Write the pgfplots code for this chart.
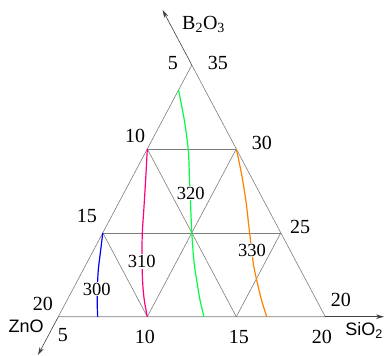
\documentclass[border=0pt]{standalone}
\usepackage{pgfplots}
\pgfplotsset{compat=1.18}
\usetikzlibrary{arrows.meta}
\usepackage{fontspec}
\setmainfont{Liberation Serif}
\newfontfamily\arial{Liberation Sans}

\definecolor{gridgray}{RGB}{125,125,125}
\definecolor{c300}{RGB}{0,0,255}
\definecolor{c310}{RGB}{255,0,128}
\definecolor{c320}{RGB}{0,255,64}
\definecolor{c330}{RGB}{255,128,0}

\tikzset{
    scalelbl/.style={font=\fontsize{20}{22}\selectfont, inner sep=0pt},
    isolbl/.style={font=\fontsize{18.5}{20}\selectfont, fill=white, inner sep=1pt},
}

\begin{document}
\begin{tikzpicture}
\begin{axis}[
    x=17.8pt, y=83.9pt,
    xmin=1.725, xmax=23.298, ymin=-0.468, ymax=3.775,
    hide axis, clip=false,
]
% triangle and grid
\addplot[gridgray, line width=0.6pt] coordinates {(5,0) (20,0) (12.5,3) (5,0)};
\addplot[gridgray, line width=0.6pt] coordinates {(7.5,1) (17.5,1)};
\addplot[gridgray, line width=0.6pt] coordinates {(10,2) (15,2)};
\addplot[gridgray, line width=0.6pt] coordinates {(10,0) (15,2)};
\addplot[gridgray, line width=0.6pt] coordinates {(15,0) (17.5,1)};
\addplot[gridgray, line width=0.6pt] coordinates {(15,0) (10,2)};
\addplot[gridgray, line width=0.6pt] coordinates {(10,0) (7.5,1)};

% axis arrows
\addplot[black!75, line width=0.6pt, -{Stealth[length=8pt,width=4.5pt]}] coordinates {(12.5,3) (10.86,3.656)};
\addplot[black!75, line width=0.6pt, -{Stealth[length=8pt,width=4.5pt]}] coordinates {(20,0) (23.3,0)};
\addplot[black!75, line width=0.6pt, -{Stealth[length=8pt,width=4.5pt]}] coordinates {(5,0) (3.86,-0.456)};

% isolines
\addplot[c300, line width=1.2pt, smooth] coordinates {
    (7.5,1) (7.382,0.795) (7.247,0.557) (7.191,0.318) (7.191,0.119) (7.213,0)};
\addplot[c310, line width=1.2pt, smooth] coordinates {
    (10,2) (9.927,1.709) (9.815,1.311) (9.719,0.994) (9.702,0.676)
    (9.742,0.398) (9.831,0.199) (10,0)};
\addplot[c320, line width=1.2pt, smooth] coordinates {
    (11.753,2.702) (12.079,2.344) (12.303,1.987) (12.371,1.629) (12.444,1.272)
    (12.5,1) (12.624,0.652) (12.775,0.437) (12.961,0.199) (13.185,0)};
\addplot[c330, line width=1.2pt, smooth] coordinates {
    (15,2) (15.303,1.692) (15.545,1.371) (15.730,1.033) (15.955,0.636)
    (16.146,0.437) (16.416,0.199) (16.708,0)};

% isoline labels
\node[isolbl] at (axis cs:7.157,0.330) {300};
\node[isolbl] at (axis cs:9.685,0.656) {310};
\node[isolbl] at (axis cs:12.438,1.474) {320};
\node[isolbl] at (axis cs:15.882,0.795) {330};

% scale labels
\node[scalelbl] at (axis cs:11.44,3.02) {5};
\node[scalelbl] at (axis cs:13.97,3.02) {35};
\node[scalelbl] at (axis cs:9.31,2.15) {10};
\node[scalelbl] at (axis cs:16.44,2.07) {30};
\node[scalelbl] at (axis cs:6.61,1.20) {15};
\node[scalelbl] at (axis cs:18.58,1.07) {25};
\node[scalelbl] at (axis cs:4.14,0.15) {20};
\node[scalelbl] at (axis cs:20.88,0.20) {20};
\node[scalelbl] at (axis cs:5.26,-0.22) {5};
\node[scalelbl] at (axis cs:9.87,-0.24) {10};
\node[scalelbl] at (axis cs:15.15,-0.24) {15};
\node[scalelbl] at (axis cs:19.81,-0.24) {20};

% component names
\node[scalelbl, anchor=west] at (axis cs:11.95,3.48) {B\textsubscript{2}O\textsubscript{3}};
\node[scalelbl, anchor=west, font=\arial\fontsize{18}{20}\selectfont] at (axis cs:2.2,-0.11) {ZnO};
\node[scalelbl, anchor=east, font=\arial\fontsize{18}{20}\selectfont] at (axis cs:23.24,-0.16) {SiO\textsubscript{2}};
\end{axis}
\pgfresetboundingbox
\useasboundingbox (current axis.south west) rectangle (current axis.north east);
\end{tikzpicture}
\end{document}
